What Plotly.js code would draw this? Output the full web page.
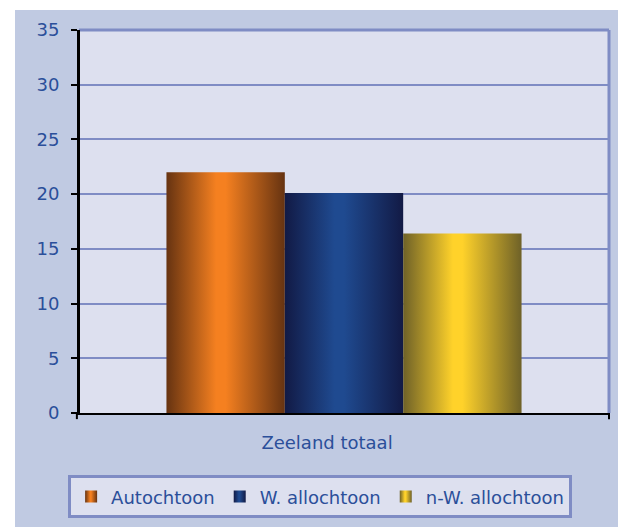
<!DOCTYPE html>
<html>
<head>
<meta charset="utf-8">
<script src="https://cdn.plot.ly/plotly-3.0.1.min.js"></script>
<style>
  html, body { margin: 0; padding: 0; background: #ffffff; }
  #chart { position: absolute; left: 15px; top: 10px; width: 603px; height: 517px; }
</style>
</head>
<body>
<div id="chart"></div>
<script>
// Data
const categories = ["Zeeland totaal"];
const seriesNames = ["Autochtoon", "W. allochtoon", "n-W. allochtoon"];
const autochtoon = [22.0];
const wAllochtoon = [20.1];
const nwAllochtoon = [16.4];
const yTicks = [0, 5, 10, 15, 20, 25, 30, 35];

const seriesValues = [autochtoon, wAllochtoon, nwAllochtoon];
const baseColors = ["#f58020", "#1f4a90", "#ffd22a"];
const gradients = [
  ["#663311", "#f58020", "#663311"],
  ["#121a45", "#1f4a90", "#121a45"],
  ["#6e6128", "#ffd22a", "#6e6128"]
];

const textColor = "#2b4f9a";
const gridColor = "#7f8cc4";
const plotBg = "#dde0ef";
const panelBg = "#c0cae2";
const fontFam = "DejaVu Sans, Verdana, sans-serif";

const traces = seriesNames.map((name, i) => ({
  type: "bar",
  name: name,
  x: categories,
  y: seriesValues[i],
  marker: { color: baseColors[i], line: { width: 0 } },
  hoverinfo: "skip"
}));

const layout = {
  width: 603,
  height: 517,
  margin: { l: 64, r: 9, t: 20, b: 114 },
  paper_bgcolor: panelBg,
  plot_bgcolor: plotBg,
  barmode: "group",
  bargap: 0.33,
  bargroupgap: 0,
  font: { family: fontFam, size: 18, color: textColor },
  showlegend: true,
  legend: {
    orientation: "h",
    xref: "container", yref: "container",
    x: 0.506, xanchor: "center",
    y: 0.1, yanchor: "top",
    bgcolor: plotBg,
    bordercolor: gridColor,
    borderwidth: 3,
    font: { family: fontFam, size: 18, color: textColor },
    traceorder: "normal"
  },
  xaxis: {
    type: "category",
    showline: true, linecolor: "#000000", linewidth: 2,
    ticks: "",
    showgrid: false,
    zeroline: false,
    ticklabelstandoff: 12,
    ticklabelshift: -17,
    tickfont: { family: fontFam, size: 18, color: textColor }
  },
  yaxis: {
    range: [0, 35],
    tickvals: yTicks,
    ticktext: yTicks.map(String),
    ticks: "outside", ticklen: 6, tickwidth: 2, tickcolor: "#000000",
    showline: true, linecolor: "#000000", linewidth: 2,
    showgrid: true, gridcolor: gridColor, gridwidth: 2,
    zeroline: false,
    ticklabelstandoff: 8,
    tickfont: { family: fontFam, size: 18, color: textColor }
  },
  shapes: [
    { type: "line", xref: "paper", yref: "paper", x0: 0, x1: 1, y0: 1, y1: 1,
      line: { color: gridColor, width: 3 } },
    { type: "line", xref: "paper", yref: "paper", x0: 1, x1: 1, y0: 0, y1: 1,
      line: { color: gridColor, width: 3 } },
    { type: "line", xref: "paper", yref: "paper", x0: 1, x1: 1, y0: 0, y1: -0.016,
      line: { color: "#000000", width: 2 } },
    { type: "line", xref: "paper", yref: "paper", x0: -0.004, x1: -0.004, y0: 0, y1: -0.016,
      line: { color: "#000000", width: 2 } },
    { type: "line", xref: "paper", yref: "paper", x0: 0, x1: 0, y0: 0, y1: 1,
      line: { color: "#000000", width: 2 } }
  ]
};

Plotly.newPlot("chart", traces, layout, { displayModeBar: false, staticPlot: true }).then(gd => {
  const svg = gd.querySelector("svg.main-svg");
  const ns = "http://www.w3.org/2000/svg";
  const defs = document.createElementNS(ns, "defs");
  gradients.forEach((g, i) => {
    const lg = document.createElementNS(ns, "linearGradient");
    lg.setAttribute("id", "bargrad" + i);
    lg.setAttribute("x1", "0"); lg.setAttribute("x2", "1");
    lg.setAttribute("y1", "0"); lg.setAttribute("y2", "0");
    [[0, g[0]], [0.42, g[1]], [0.5, g[1]], [1, g[2]]].forEach(([o, c]) => {
      const s = document.createElementNS(ns, "stop");
      s.setAttribute("offset", o);
      s.setAttribute("stop-color", c);
      lg.appendChild(s);
    });
    defs.appendChild(lg);
  });
  svg.insertBefore(defs, svg.firstChild);
  gd.querySelectorAll(".barlayer .trace").forEach((t, i) => {
    t.querySelectorAll("path").forEach(p => { p.style.fill = "url(#bargrad" + i + ")"; });
  });
  gd.querySelectorAll(".legend .traces").forEach((t, i) => {
    t.querySelectorAll(".legendpoints path").forEach(p => { p.style.fill = "url(#bargrad" + i + ")"; });
  });
});
</script>
</body>
</html>
